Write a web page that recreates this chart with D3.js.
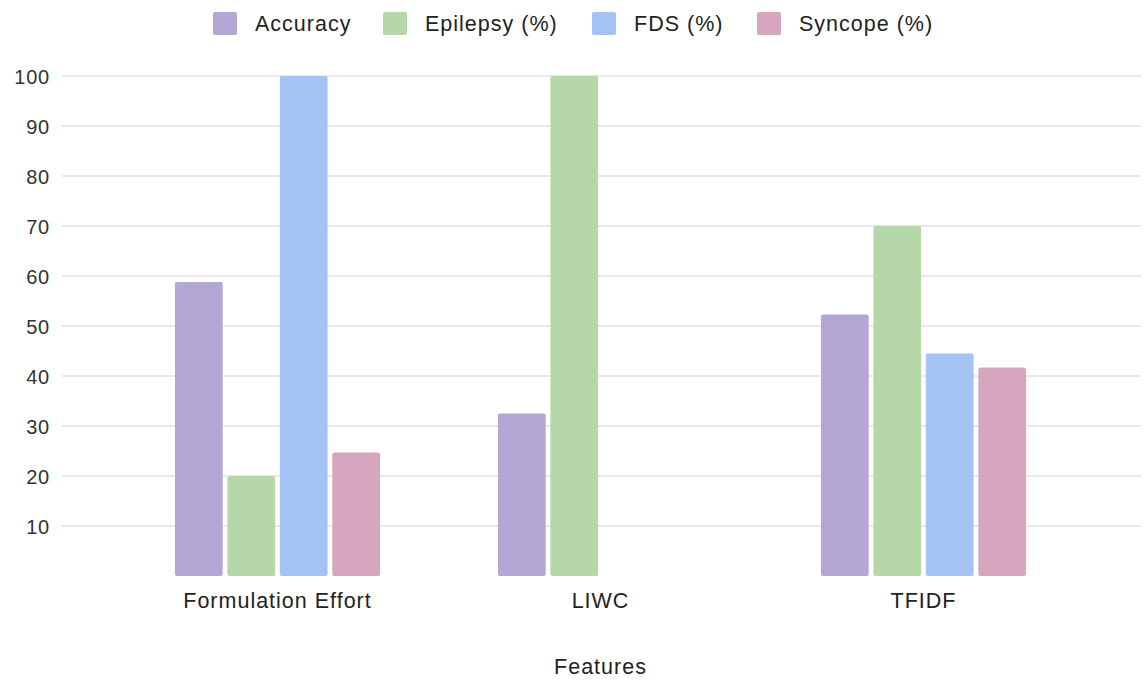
<!DOCTYPE html>
<html>
<head>
<meta charset="utf-8">
<script src="https://cdn.jsdelivr.net/npm/d3@7"></script>
<style>
  html, body { margin: 0; padding: 0; background: #ffffff; }
  svg { display: block; font-family: "Liberation Sans", Arial, sans-serif; }
</style>
</head>
<body>
<svg id="chart" width="1144" height="681"></svg>
<script>
// Feature groups on the x axis
const categories = ["Formulation Effort", "LIWC", "TFIDF"];

// Series names and their values per feature group (null = no bar)
const seriesNames = ["Accuracy", "Epilepsy (%)", "FDS (%)", "Syncope (%)"];
const accuracy = [58.8, 32.5, 52.3];
const epilepsy = [20, 100, 70];
const fds = [100, null, 44.5];
const syncope = [24.7, null, 41.7];
const seriesValues = [accuracy, epilepsy, fds, syncope];
const seriesColors = ["#b4a7d6", "#b6d7a8", "#a4c2f4", "#d5a6bd"];

// Y axis tick values
const yTicks = [10, 20, 30, 40, 50, 60, 70, 80, 90, 100];

const xAxisTitle = "Features";

const svg = d3.select("#chart");

const plot = { left: 116, right: 1085, top: 76, bottom: 576, gridLeft: 62, gridRight: 1141 };

const y = d3.scaleLinear().domain([0, 100]).range([plot.bottom, plot.top]);

const x0 = d3.scaleBand()
  .domain(categories)
  .range([plot.left, plot.right])
  .paddingInner(0.365)
  .paddingOuter(0.1825);

const x1 = d3.scaleBand()
  .domain(seriesNames)
  .range([0, x0.bandwidth()])
  .paddingInner(0.09)
  .paddingOuter(0);

const color = d3.scaleOrdinal().domain(seriesNames).range(seriesColors);

// Horizontal gridlines
svg.append("g")
  .selectAll("line")
  .data(yTicks)
  .join("line")
  .attr("x1", plot.gridLeft)
  .attr("x2", plot.gridRight)
  .attr("y1", d => y(d))
  .attr("y2", d => y(d))
  .attr("stroke", "#e2e2e2")
  .attr("stroke-width", 1.6);

// Y axis tick labels
const yAxis = d3.axisLeft(y).tickValues(yTicks).tickSize(0).tickPadding(0);
const yg = svg.append("g")
  .attr("transform", `translate(50,0)`)
  .call(yAxis);
yg.select(".domain").remove();
yg.selectAll("text")
  .attr("font-family", "Liberation Sans, Arial, sans-serif")
  .attr("font-size", 20)
  .attr("letter-spacing", 0.8)
  .attr("fill", "#333333")
  .attr("dy", "0.35em");

// Bars
const rows = categories.map((c, i) => ({
  category: c,
  values: seriesNames.map((s, j) => ({ series: s, value: seriesValues[j][i] }))
}));

svg.append("g")
  .selectAll("g")
  .data(rows)
  .join("g")
  .attr("transform", d => `translate(${x0(d.category)},0)`)
  .selectAll("rect")
  .data(d => d.values.filter(v => v.value != null))
  .join("rect")
  .attr("x", d => x1(d.series))
  .attr("width", x1.bandwidth())
  .attr("y", d => y(d.value))
  .attr("height", d => y(0) - y(d.value))
  .attr("rx", 2)
  .attr("fill", d => color(d.series));

// X axis category labels
const xAxis = d3.axisBottom(x0).tickSize(0).tickPadding(0);
const xg = svg.append("g")
  .attr("transform", `translate(0,${plot.bottom + 17})`)
  .call(xAxis);
xg.select(".domain").remove();
xg.selectAll("text")
  .attr("font-family", "Liberation Sans, Arial, sans-serif")
  .attr("font-size", 21.5)
  .attr("letter-spacing", 1)
  .attr("fill", "#222222")
  .attr("dy", "0.71em");

// X axis title
svg.append("text")
  .attr("x", (plot.left + plot.right) / 2)
  .attr("y", 666)
  .attr("text-anchor", "middle")
  .attr("dy", "0.35em")
  .attr("font-size", 21.5)
  .attr("letter-spacing", 1)
  .attr("fill", "#222222")
  .text(xAxisTitle);

// Legend across the top
const legendX = [213, 383, 592, 757];
const legend = svg.append("g")
  .selectAll("g")
  .data(seriesNames)
  .join("g")
  .attr("transform", (d, i) => `translate(${legendX[i]},12)`);

legend.append("rect")
  .attr("width", 24)
  .attr("height", 23)
  .attr("rx", 2)
  .attr("fill", d => color(d));

legend.append("text")
  .attr("x", 42)
  .attr("y", 11)
  .attr("dy", "0.35em")
  .attr("font-size", 21.5)
  .attr("letter-spacing", 1)
  .attr("fill", "#222222")
  .text(d => d);
</script>
</body>
</html>
